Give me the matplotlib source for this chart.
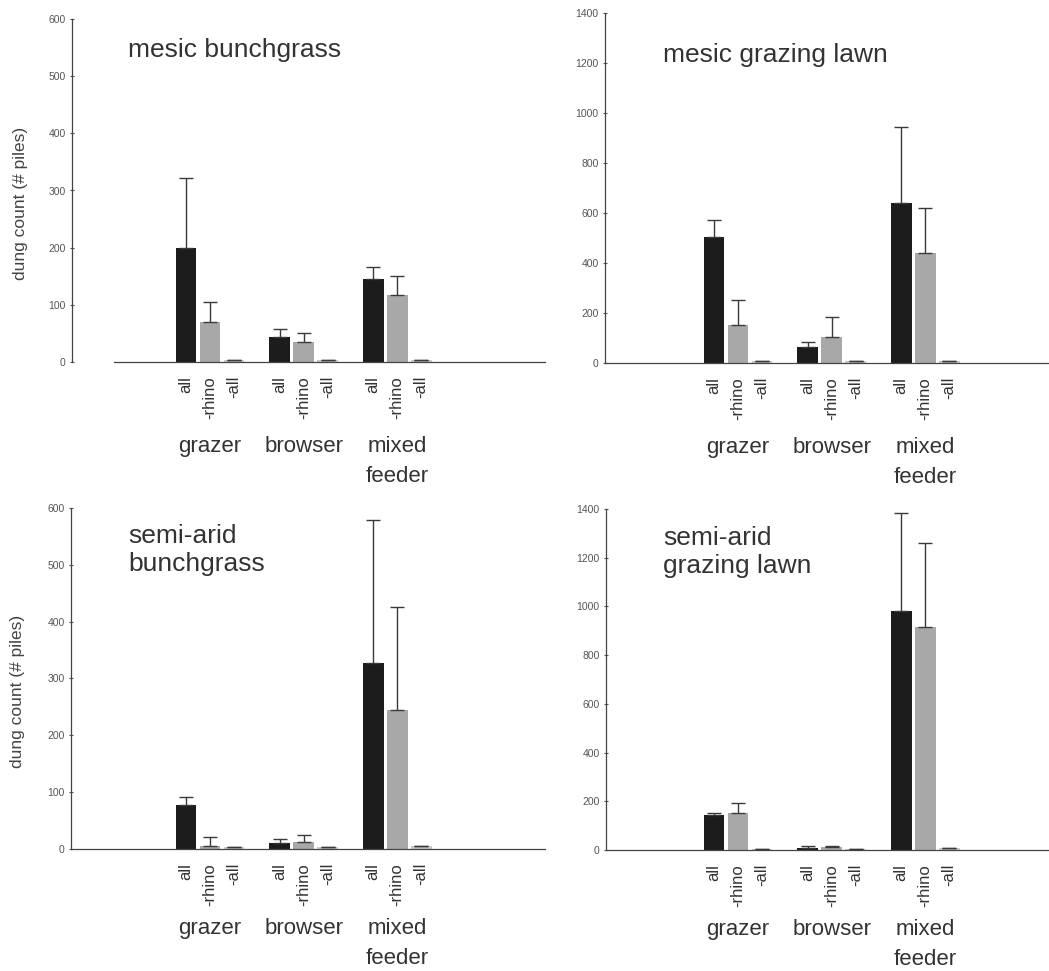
import numpy as np
import matplotlib.pyplot as plt

plt.rcParams['font.family'] = ['Liberation Sans', 'DejaVu Sans']

W, H = 1049, 971

bar_labels = ['all', '-rhino', '-all'] * 3
groups = ['grazer', 'browser', 'mixed\nfeeder']
xpos = np.array([0, 1, 2, 3.9, 4.9, 5.9, 7.8, 8.8, 9.8])
group_mid = [1, 4.9, 8.8]
bar_colors = ['#1c1c1c', '#a8a8a8', '#c9c9c9'] * 3

# mean dung counts and upper error per bar
mesic_bunch = [200, 70, 4, 44, 35, 3, 145, 118, 4]
mesic_bunch_err = [122, 35, 0, 14, 15, 0, 22, 32, 0]
mesic_lawn = [505, 150, 6, 64, 105, 8, 640, 440, 8]
mesic_lawn_err = [68, 100, 0, 20, 80, 0, 305, 180, 0]
semi_bunch = [77, 5, 3, 10, 12, 3, 327, 245, 5]
semi_bunch_err = [15, 16, 0, 8, 13, 0, 252, 181, 0]
semi_lawn = [144, 152, 5, 10, 12, 5, 981, 916, 10]
semi_lawn_err = [6, 41, 0, 5, 4, 0, 403, 345, 0]

panels = [
    # title, means, errs, ymax, ystep, (left, right, y0, ytop) in px, xaxis start
    ('mesic bunchgrass', mesic_bunch, mesic_bunch_err, 600, 100, (72, 545, 362, 19), -3),
    ('mesic grazing lawn', mesic_lawn, mesic_lawn_err, 1400, 200, (605, 1049, 363, 13), None),
    ('semi-arid\nbunchgrass', semi_bunch, semi_bunch_err, 600, 100, (71, 545, 849, 508), None),
    ('semi-arid\ngrazing lawn', semi_lawn, semi_lawn_err, 1400, 200, (606, 1049, 850, 509), None),
]
title_px = [(128, 50), (663, 55), (128, 550), (663, 552)]
first_px = [186, 714, 186, 714]
group_offset = [-53, -53, -49.5, -49.5]

fig = plt.figure(figsize=(W / 100, H / 100), dpi=100)

for i, (title, vals, errs, ymax, ystep, box, xstart) in enumerate(panels):
    l, r, y0, yt = box
    ax = fig.add_axes([l / W, 1 - y0 / H, (r - l) / W, (y0 - yt) / H])
    unit = 24.0
    ax.set_xlim((l - first_px[i]) / unit, (r - first_px[i]) / unit)
    ax.set_ylim(0, ymax)
    ax.bar(xpos, vals, width=0.86, color=bar_colors, zorder=2)
    ax.errorbar(xpos, vals, yerr=[np.zeros(9), errs], fmt='none',
                ecolor='#3a3a3a', elinewidth=1.0, capsize=5, capthick=1.0, zorder=3)
    for s in ['top', 'right']:
        ax.spines[s].set_visible(False)
    ax.spines['left'].set_color('#444444')
    ax.spines['bottom'].set_color('#444444')
    ax.spines['left'].set_linewidth(0.9)
    ax.spines['bottom'].set_linewidth(0.9)
    if xstart is not None:
        ax.spines['bottom'].set_bounds(xstart, ax.get_xlim()[1])
    ax.set_yticks(np.arange(0, ymax + 1, ystep))
    ax.tick_params(axis='y', labelsize=7.5, labelcolor='#555555', color='#555555',
                   length=3, direction='inout', pad=3)
    ax.set_xticks(xpos, bar_labels, rotation=90, fontsize=12, color='#333333')
    ax.tick_params(axis='x', length=0, pad=10)
    for g, gx in zip(groups, group_mid):
        ax.annotate(g, xy=(gx, 0), xycoords=('data', 'axes fraction'),
                    xytext=(0, group_offset[i]), textcoords='offset points',
                    ha='center', va='top', fontsize=16, color='#333333', linespacing=1.6)
    if i % 2 == 0:
        ax.set_ylabel('dung count (# piles)', fontsize=12.5, color='#444444')
        ax.yaxis.set_label_coords(-0.093 if i == 0 else -0.097, 0.463)
    tx, ty = title_px[i]
    fig.text(tx / W, 1 - ty / H, title, fontsize=19, color='#333333',
             ha='left', va='center', linespacing=1.2)

fig.savefig('out.png', dpi=100)
